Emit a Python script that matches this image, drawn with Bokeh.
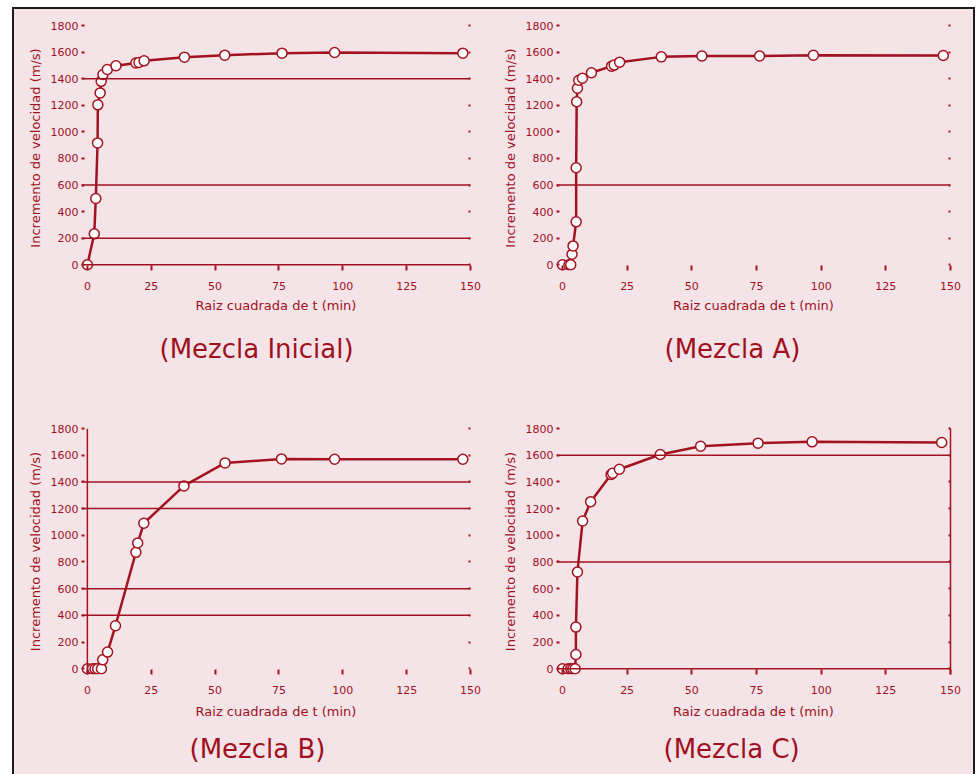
from bokeh.plotting import figure
from bokeh.layouts import gridplot
from bokeh.models import FixedTicker, Span, Title, LinearAxis, Range1d
from bokeh.embed import file_html
from bokeh.resources import INLINE

# ---------------- data ----------------
x_ticks = [0, 25, 50, 75, 100, 125, 150]
y_ticks = [0, 200, 400, 600, 800, 1000, 1200, 1400, 1600, 1800]

x_ini = [0, 2.7, 3.3, 4.0, 4.1, 5.0, 5.4, 6.1, 7.8, 11.2, 19.0, 20.2, 22.2, 38.0, 53.8, 76.2, 96.8, 147.0]
y_ini = [0, 233, 499, 917, 1203, 1293, 1380, 1431, 1469, 1497, 1518, 1522, 1534, 1562, 1577, 1592, 1597, 1592]

x_a = [0, 2.5, 3.2, 3.7, 4.1, 5.3, 5.3, 5.5, 5.8, 6.3, 7.7, 11.2, 19.0, 20.0, 22.1, 38.2, 53.9, 76.2, 97.0, 147.2]
y_a = [0, 0, 0, 79, 142, 323, 730, 1226, 1328, 1388, 1403, 1445, 1494, 1502, 1524, 1564, 1571, 1571, 1576, 1574]

x_b = [0, 2.0, 3.0, 4.0, 5.5, 6.0, 7.9, 11.0, 19.0, 19.7, 22.1, 37.8, 53.9, 76.0, 96.8, 147.0]
y_b = [0, 0, 0, 0, 0, 67, 125, 322, 872, 942, 1090, 1370, 1542, 1572, 1570, 1570]

x_c = [0, 2.2, 3.2, 4.0, 4.9, 5.2, 5.2, 5.8, 7.8, 10.9, 18.8, 19.4, 22.0, 37.8, 53.4, 75.6, 96.5, 146.6]
y_c = [0, 0, 0, 0, 0, 107, 312, 725, 1107, 1252, 1455, 1465, 1495, 1605, 1667, 1690, 1700, 1695]

names = ["(Mezcla Inicial)", "(Mezcla A)", "(Mezcla B)", "(Mezcla C)"]
x_label = "Raiz cuadrada de t (min)"
y_label = "Incremento de velocidad (m/s)"
grid_levels = [[200, 600, 1400], [600], [400, 600, 1200, 1400], [800, 1600]]

# ---------------- style ----------------
RED = "#A3121F"
TXT = "#A0101E"
BG = "#F4E4E7"
FONT = "DejaVu Sans"


def panel(xs, ys, name, grid, w, h, bl, br, bt, bb, xline, yline, rline, t_off, t_stand, xl_stand):
    p = figure(width=w, height=h, output_backend="svg", toolbar_location=None,
               x_range=Range1d(-2.3, 150), y_range=Range1d(-43, 1800),
               min_border_left=bl, min_border_right=br,
               min_border_top=bt, min_border_bottom=bb,
               background_fill_color=BG, border_fill_color=BG,
               outline_line_color=None)
    p.xgrid.visible = False
    p.ygrid.visible = False
    for lv in grid:
        p.add_layout(Span(location=lv, dimension="width", line_color=RED, line_width=1.5))
    if xline:
        p.add_layout(Span(location=0, dimension="width", line_color=RED, line_width=1.5))
    if yline:
        p.add_layout(Span(location=0, dimension="height", line_color=RED, line_width=1.5))

    xa = p.xaxis[0]
    xa.ticker = FixedTicker(ticks=x_ticks)
    xa.axis_label = x_label
    ya = p.yaxis[0]
    ya.ticker = FixedTicker(ticks=y_ticks)
    ya.axis_label = y_label
    for ax in (xa, ya):
        ax.axis_label_text_font = FONT
        ax.axis_label_text_font_size = "13px"
        ax.axis_label_text_font_style = "normal"
        ax.axis_label_text_color = TXT
        ax.major_label_text_font = FONT
        ax.major_label_text_font_size = "11px"
        ax.major_label_text_color = TXT
        ax.major_tick_out = 0
        ax.major_tick_line_color = RED
        ax.major_tick_line_width = 2
        ax.minor_tick_line_color = None
        ax.axis_line_color = None
    xa.major_tick_in = 5
    ya.major_tick_in = 3
    xa.major_label_standoff = 11
    xa.axis_label_standoff = xl_stand
    ya.major_label_standoff = 3
    ya.axis_label_standoff = 5

    ra = LinearAxis(ticker=FixedTicker(ticks=y_ticks), major_label_overrides={t: "" for t in y_ticks},
                    major_tick_in=2, major_tick_out=0, major_tick_line_color=RED,
                    major_tick_line_width=2, minor_tick_line_color=None,
                    axis_line_color=RED if rline else None, axis_line_width=1.5,
                    major_label_standoff=0, major_label_text_font_size="1px")
    p.add_layout(ra, "right")

    p.line(xs, ys, line_color=RED, line_width=2.5)
    p.scatter(xs, ys, marker="circle", size=10, fill_color="white",
              line_color=RED, line_width=1.5)

    t = Title(text=name, align="left", text_font=FONT, text_font_size="26px",
              text_font_style="normal", text_color=TXT, offset=t_off, standoff=t_stand)
    p.add_layout(t, "below")
    return p


W1, W2 = 471, 488
H1, H2 = 385, 380
p1 = panel(x_ini, y_ini, names[0], grid_levels[0], W1, H1, 67, 15, 16, 124, True, False, False, 78, 32, 5)
p2 = panel(x_a, y_a, names[1], grid_levels[1], W2, H1, 71, 23, 16, 124, False, False, False, 108, 32, 5)
p3 = panel(x_b, y_b, names[2], grid_levels[2], W1, H2, 67, 15, 34, 100, False, True, False, 108, 21, 7)
p4 = panel(x_c, y_c, names[3], grid_levels[3], W2, H2, 71, 23, 34, 100, True, False, True, 107, 21, 7)

layout = gridplot([[p1, p2], [p3, p4]], toolbar_location=None)
layout.styles = {"border-left": "2px solid #1c1c1c", "border-top": "2px solid #1c1c1c",
                 "border-right": "2px solid #1c1c1c", "margin-left": "12px",
                 "margin-top": "7px", "background-color": BG}

open("out.html", "w").write(file_html(layout, INLINE))
